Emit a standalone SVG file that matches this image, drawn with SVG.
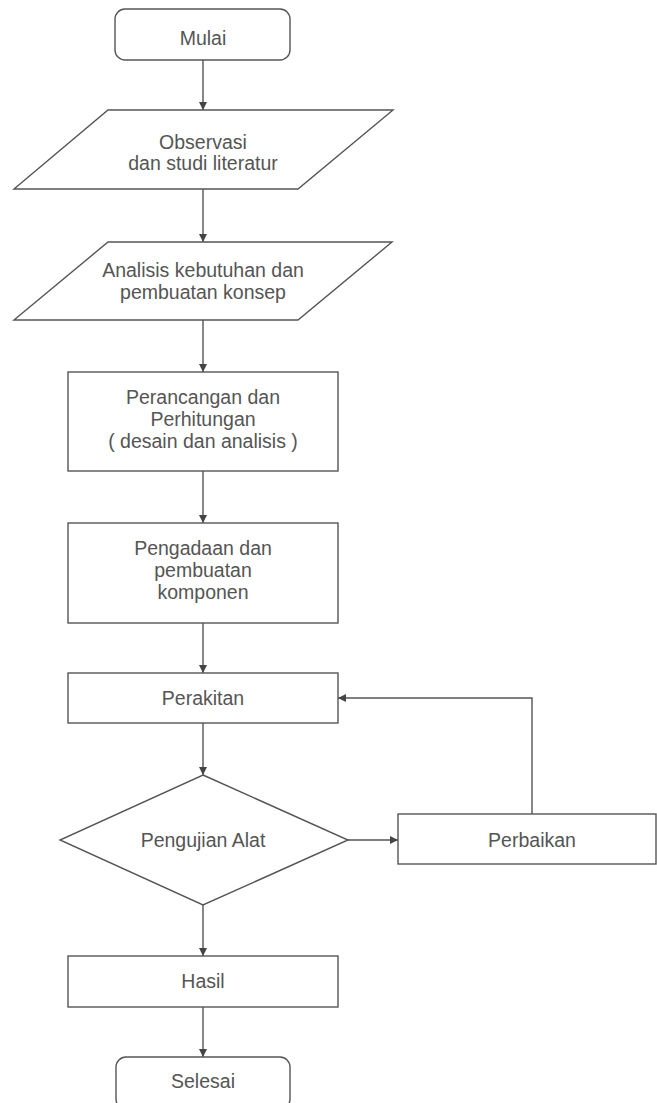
<svg xmlns="http://www.w3.org/2000/svg" width="657" height="1103" viewBox="0 0 657 1103">
<style>
.s{fill:#fff;stroke:#555;stroke-width:1.4}
.t{font-family:"Liberation Sans",Arial,sans-serif;font-size:19.5px;fill:#555;text-anchor:middle}
.c{fill:none;stroke:#555;stroke-width:1.4}
</style>
<defs>
<marker id="ah" viewBox="0 0 10 10" refX="10" refY="5" markerWidth="8" markerHeight="8" markerUnits="userSpaceOnUse" orient="auto">
<path d="M0,0 L10,5 L0,10 Z" fill="#444"/>
</marker>
</defs>
<rect width="657" height="1103" fill="#fff"/>
<g id="connectors">
<line class="c" x1="203" y1="60" x2="203" y2="110" marker-end="url(#ah)"/>
<line class="c" x1="203" y1="189" x2="203" y2="242" marker-end="url(#ah)"/>
<line class="c" x1="203" y1="320" x2="203" y2="372" marker-end="url(#ah)"/>
<line class="c" x1="203" y1="471" x2="203" y2="523" marker-end="url(#ah)"/>
<line class="c" x1="203" y1="623" x2="203" y2="673" marker-end="url(#ah)"/>
<line class="c" x1="203" y1="723" x2="203" y2="775" marker-end="url(#ah)"/>
<line class="c" x1="348" y1="840" x2="398" y2="840" marker-end="url(#ah)"/>
<polyline class="c" points="532,814 532,698 338,698" marker-end="url(#ah)"/>
<line class="c" x1="203" y1="905" x2="203" y2="956" marker-end="url(#ah)"/>
<line class="c" x1="203" y1="1007" x2="203" y2="1057" marker-end="url(#ah)"/>
</g>
<g id="mulai">
<rect class="s" x="115" y="9" width="175" height="51" rx="10"/>
<text class="t" x="203" y="45">Mulai</text>
</g>
<g id="observasi">
<polygon class="s" points="108,110 393,110 298,189 14,189"/>
<text class="t" x="203" y="149">Observasi</text>
<text class="t" x="203" y="170">dan studi literatur</text>
</g>
<g id="analisis">
<polygon class="s" points="108,242 392,242 298,320 14,320"/>
<text class="t" x="203" y="277">Analisis kebutuhan dan</text>
<text class="t" x="203" y="299">pembuatan konsep</text>
</g>
<g id="perancangan">
<rect class="s" x="68" y="372" width="270" height="99"/>
<text class="t" x="203" y="404">Perancangan dan</text>
<text class="t" x="203" y="426">Perhitungan</text>
<text class="t" x="203" y="448">( desain dan analisis )</text>
</g>
<g id="pengadaan">
<rect class="s" x="68" y="523" width="270" height="100"/>
<text class="t" x="203" y="555">Pengadaan dan</text>
<text class="t" x="203" y="577">pembuatan</text>
<text class="t" x="203" y="599">komponen</text>
</g>
<g id="perakitan">
<rect class="s" x="68" y="673" width="270" height="50"/>
<text class="t" x="203" y="705">Perakitan</text>
</g>
<g id="pengujian">
<polygon class="s" points="203,775 348,840 203,905 60,840"/>
<text class="t" x="203" y="847">Pengujian Alat</text>
</g>
<g id="perbaikan">
<rect class="s" x="398" y="814" width="258" height="50"/>
<text class="t" x="532" y="847">Perbaikan</text>
</g>
<g id="hasil">
<rect class="s" x="68" y="956" width="270" height="51"/>
<text class="t" x="203" y="988">Hasil</text>
</g>
<g id="selesai">
<rect class="s" x="116" y="1057" width="174" height="52" rx="10"/>
<text class="t" x="203" y="1088">Selesai</text>
</g>
</svg>
